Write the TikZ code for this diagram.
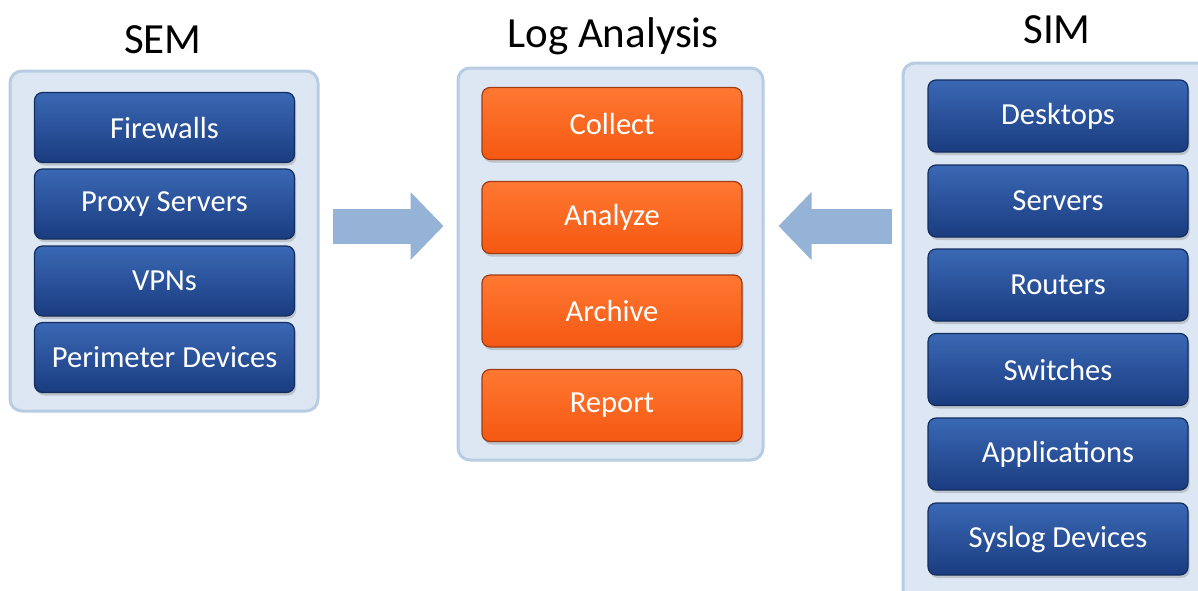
\documentclass[tikz,border=0pt]{standalone}
\usepackage{fontspec}
\setmainfont{Carlito}
\usepackage{tikz}
\usetikzlibrary{arrows.meta,shadows,calc}
\definecolor{panelfill}{RGB}{221,231,243}
\definecolor{paneldraw}{RGB}{184,204,228}
\definecolor{bluetop}{RGB}{58,104,180}
\definecolor{bluebot}{RGB}{26,60,128}
\definecolor{blueline}{RGB}{20,45,95}
\definecolor{orangetop}{RGB}{255,120,50}
\definecolor{orangebot}{RGB}{245,88,18}
\definecolor{orangeline}{RGB}{160,60,20}
\definecolor{arrowfill}{RGB}{149,179,215}
\tikzstyle{panel}=[
  draw=paneldraw, line width=1.5pt, fill=panelfill, rounded corners=6pt
]
\tikzstyle{title}=[
  font=\fontsize{21.5}{25}\selectfont, text=black
]
\tikzstyle{device}=[
  draw=blueline, line width=0.6pt, rounded corners=4pt, top color=bluetop,
  bottom color=bluebot, text=white, font=\fontsize{15.3}{18}\selectfont,
  minimum width=130pt, minimum height=35pt, inner sep=0pt,
  drop shadow={shadow xshift=0.8pt, shadow yshift=-1.5pt, opacity=0.35}
]
\tikzstyle{stage}=[
  device, draw=orangeline, top color=orangetop, bottom color=orangebot,
  minimum height=36pt
]
\tikzstyle{bigarrow}=[
  arrowfill, line width=17.5pt, -{Triangle[length=16.5pt, width=33pt]}
]

\begin{document}
\begin{tikzpicture}[x=0.5pt, y=-0.5pt]
        \useasboundingbox (0,0) rectangle (1198,590);
        \clip (0,0) rectangle (1198,590);
        \fill[white] (0,0) rectangle (1198,590);

        % panels
        \node (sem) at (164,241) [panel, minimum width=154pt, minimum height=170pt] {};
        \node (log) at (610.5,264) [panel, minimum width=152.5pt, minimum height=196pt] {};
        \node (sim) at (1059,337) [panel, minimum width=156pt, minimum height=274pt] {};

        \node (semtitle) at (163,40) [title] {SEM};
        \node (logtitle) at (613,36) [title] {Log Analysis};
        \node (simtitle) at (1057,30) [title] {SIM};

        \node (firewalls) at (164.5,127.5) [device] {Firewalls};
        \node (proxy) at (164.5,204) [device] {Proxy Servers};
        \node (vpns) at (164.5,281) [device] {VPNs};
        \node (perimeter) at (164.5,357.5) [device] {Perimeter Devices};

        \node (collect) at (612,123.5) [stage] {Collect};
        \node (analyze) at (612,217.5) [stage] {Analyze};
        \node (archive) at (612,311) [stage] {Archive};
        \node (report) at (612,405.5) [stage] {Report};

        \node (desktops) at (1058,116) [device, minimum height=36pt] {Desktops};
        \node (servers) at (1058,201) [device, minimum height=36pt] {Servers};
        \node (routers) at (1058,285) [device, minimum height=36pt] {Routers};
        \node (switches) at (1058,369.5) [device, minimum height=36pt] {Switches};
        \node (apps) at (1058,454) [device, minimum height=36pt] {Applications};
        \node (syslog) at (1058,539) [device, minimum height=36pt] {Syslog Devices};

        \coordinate (mid) at (0,226);
        \coordinate (inleft) at ($(sem.east |- mid) + (13,0)$);
        \coordinate (outleft) at ($(log.west |- mid) + (-13,0)$);
        \coordinate (inright) at ($(sim.west |- mid) + (-10,0)$);
        \coordinate (outright) at ($(log.east |- mid) + (14,0)$);

        \draw [bigarrow] (inleft) -- (outleft);
        \draw [bigarrow] (inright) -- (outright);
\end{tikzpicture}
\end{document}
